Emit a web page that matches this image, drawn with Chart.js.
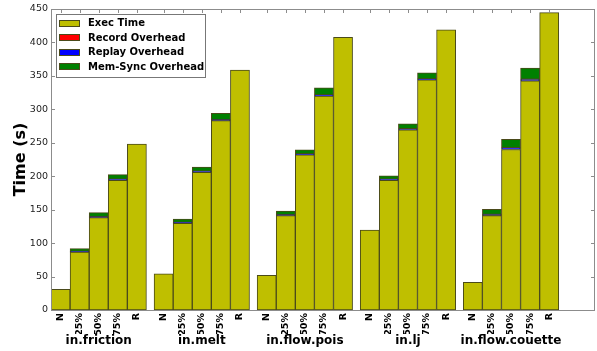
<!DOCTYPE html>
<html>
<head>
<meta charset="utf-8">
<script src="https://cdn.jsdelivr.net/npm/chart.js@4.4.1/dist/chart.umd.min.js"></script>
<style>
  html, body { margin: 0; padding: 0; background: #fff; }
  #wrap { width: 597px; height: 351px; }
</style>
</head>
<body>
<div id="wrap"><canvas id="timeChart" width="597" height="351"></canvas></div>
<script>
const benchmarks = ['in.friction', 'in.melt', 'in.flow.pois', 'in.lj', 'in.flow.couette'];
const configs = ['N', '25%', '50%', '75%', 'R'];
const yTicks = [0, 50, 100, 150, 200, 250, 300, 350, 400, 450];

// one value per bar: benchmark by benchmark, configs N, 25%, 50%, 75%, R
const execTime = [
  31, 86.5, 138, 194, 248,
  54, 129.5, 206, 283, 358.5,
  52, 141, 232, 320, 407.5,
  119.5, 194, 269.5, 344, 419,
  41.5, 141, 240, 342.5, 444.5
];
// too small to show in the picture
const recordOverhead = [
  0, 0, 0, 0, 0,
  0, 0, 0, 0, 0,
  0, 0, 0, 0, 0,
  0, 0, 0, 0, 0,
  0, 0, 0, 0, 0
];
const replayOverhead = [
  0, 1.2, 1.5, 1.5, 0,
  0, 1.5, 1.5, 1.5, 0,
  0, 1.5, 1.5, 1.5, 0,
  0, 1.5, 1.5, 1.5, 0,
  0, 2, 2.5, 2.5, 0
];
const memSyncOverhead = [
  0, 4, 6, 7, 0,
  0, 5, 6, 9.5, 0,
  0, 5.5, 6, 10.5, 0,
  0, 5, 7.5, 9, 0,
  0, 7.5, 12.5, 16.5, 0
];

const GROUP_STEP = 5.4; // bar slots per benchmark incl. gap
const X_MAX = 28.5;
const FONT = "'DejaVu Sans', sans-serif";
const EDGE = '#4a4a1a';

function barCenter(i) {
  return Math.floor(i / configs.length) * GROUP_STEP + (i % configs.length) + 0.5;
}
const barPositions = execTime.map((v, i) => barCenter(i));
const groupCenters = benchmarks.map((b, g) => g * GROUP_STEP + configs.length / 2);

function series(label, values, color) {
  return {
    label,
    data: values.map((v, i) => ({ x: barPositions[i], y: v })),
    backgroundColor: color,
    borderColor: EDGE,
    borderWidth: 1,
    borderSkipped: false,
    barPercentage: 1,
    categoryPercentage: 1
  };
}

const frameAndTicks = {
  id: 'frameAndTicks',
  afterDatasetsDraw(chart) {
    const { ctx, chartArea: a, scales } = chart;
    ctx.save();
    ctx.strokeStyle = '#8c8c8c';
    ctx.lineWidth = 1;
    ctx.beginPath();
    yTicks.forEach(t => {
      const y = Math.round(scales.y.getPixelForValue(t)) + 0.5;
      ctx.moveTo(a.left, y); ctx.lineTo(a.left + 4, y);
      ctx.moveTo(a.right, y); ctx.lineTo(a.right - 4, y);
    });
    barPositions.forEach(p => {
      const x = Math.round(scales.x.getPixelForValue(p)) + 0.5;
      ctx.moveTo(x, a.top); ctx.lineTo(x, a.top + 4);
    });
    ctx.stroke();
    ctx.strokeRect(Math.round(a.left) + 0.5, Math.round(a.top) + 0.5,
      Math.round(a.right - a.left) - 1, Math.round(a.bottom - a.top));
    ctx.restore();
  }
};

const boxedLegend = {
  id: 'boxedLegend',
  afterDraw(chart) {
    const { ctx, chartArea: a } = chart;
    const x0 = a.left + 5, y0 = a.top + 5;
    ctx.save();
    ctx.fillStyle = '#fff';
    ctx.fillRect(x0, y0, 149, 63);
    ctx.strokeStyle = '#777';
    ctx.lineWidth = 1;
    ctx.strokeRect(x0 + 0.5, y0 + 0.5, 149, 63);
    ctx.font = 'bold 10px ' + FONT;
    ctx.textBaseline = 'middle';
    chart.data.datasets.forEach((ds, k) => {
      const cy = y0 + 9 + k * 14.6;
      ctx.fillStyle = ds.backgroundColor;
      ctx.fillRect(x0 + 3, Math.round(cy - 3.5), 21, 7);
      ctx.strokeStyle = EDGE;
      ctx.strokeRect(x0 + 3.5, Math.round(cy - 3.5) + 0.5, 20, 6);
      ctx.fillStyle = '#000';
      ctx.fillText(ds.label, x0 + 32, cy + 0.5);
    });
    ctx.restore();
  }
};

new Chart(document.getElementById('timeChart'), {
  type: 'bar',
  data: {
    datasets: [
      series('Exec Time', execTime, '#bfbf00'),
      series('Record Overhead', recordOverhead, '#ff0000'),
      series('Replay Overhead', replayOverhead, '#0000ff'),
      series('Mem-Sync Overhead', memSyncOverhead, '#008000')
    ]
  },
  options: {
    responsive: false,
    animation: false,
    layout: { padding: { top: 9, right: 2, left: 0, bottom: 0 } },
    plugins: {
      legend: { display: false },
      tooltip: { enabled: false }
    },
    scales: {
      x: {
        type: 'linear',
        stacked: true,
        offset: false,
        min: 0,
        max: X_MAX,
        weight: 0,
        grid: { display: false, drawTicks: false, offset: false },
        border: { display: false },
        afterBuildTicks: s => { s.ticks = barPositions.map(v => ({ value: v })); },
        afterFit: s => { s.height = 24; },
        ticks: {
          autoSkip: false,
          minRotation: 90,
          maxRotation: 90,
          padding: 3,
          color: '#000',
          font: { family: FONT, size: 9.5, weight: 'bold' },
          callback: (v, i) => configs[i % configs.length]
        }
      },
      x2: {
        type: 'linear',
        position: 'bottom',
        offset: false,
        min: 0,
        max: X_MAX,
        weight: 1,
        grid: { display: false, drawTicks: false, offset: false },
        border: { display: false },
        afterBuildTicks: s => { s.ticks = groupCenters.map(v => ({ value: v })); },
        afterFit: s => { s.height = 17; },
        ticks: {
          autoSkip: false,
          maxRotation: 0,
          padding: 0,
          color: '#000',
          font: { family: FONT, size: 12, weight: 'bold' },
          callback: (v, i) => benchmarks[i]
        }
      },
      y: {
        stacked: true,
        min: 0,
        max: 450,
        grid: { display: false, drawTicks: false },
        border: { display: false },
        afterBuildTicks: s => { s.ticks = yTicks.map(v => ({ value: v })); },
        afterFit: s => { s.width = 51; },
        ticks: {
          padding: 3,
          color: '#222',
          font: { family: FONT, size: 9.5 }
        },
        title: {
          display: true,
          text: 'Time (s)',
          color: '#000',
          padding: { top: 11, bottom: 0 },
          font: { family: FONT, size: 16, weight: 'bold' }
        }
      }
    }
  },
  plugins: [frameAndTicks, boxedLegend]
});
</script>
</body>
</html>
